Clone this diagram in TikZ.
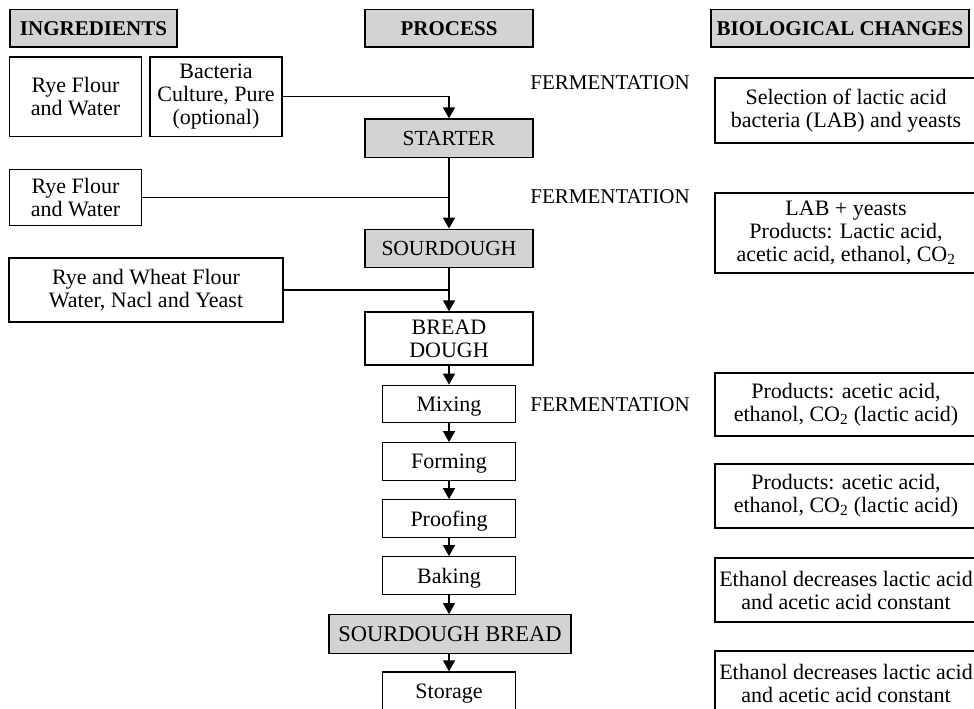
\documentclass[tikz,border=0pt]{standalone}
\usepackage{fontspec}
\setmainfont{Liberation Serif}
\usetikzlibrary{arrows.meta}
\definecolor{boxgray}{RGB}{211,211,211}
\tikzset{
  box/.style={draw, line width=1.3pt, align=center, inner sep=0pt,
    font=\fontsize{22}{23}\selectfont},
  head/.style={box, fill=boxgray, minimum height=37.5,
    font=\fontsize{21}{22}\selectfont\bfseries},
  stage/.style={box, fill=boxgray, minimum height=38.5,
    font=\fontsize{21.5}{23}\selectfont},
  step box/.style={box, minimum width=133, minimum height=37.5, text depth=0pt},
  change/.style={box, minimum width=262},
  ferm/.style={inner sep=0pt, font=\fontsize{21}{22}\selectfont},
  flow/.style={line width=1.3pt, -{Triangle[width=12pt,length=11pt]}},
  feed/.style={line width=1.3pt}
}
\begin{document}
\begin{tikzpicture}[x=1pt, y=-1pt]
  \useasboundingbox (0,0) rectangle (974,709);
  \clip (0,0) rectangle (974,709);
  % column heads
  \node[head, minimum width=167] (ingr) at (93.5,28.25) {INGREDIENTS};
  \node[head, minimum width=168] (proc) at (449,28.25) {PROCESS};
  \node[head, minimum width=258] (bio) at (840,28.25) {BIOLOGICAL CHANGES};
  % ingredients
  \node[box, minimum width=132, minimum height=79.5] (rye1) at (75.5,96.75) {Rye Flour\\and Water};
  \node[box, minimum width=132, minimum height=79.5] (bact) at (216,96.75) {Bacteria\\Culture, Pure\\(optional)};
  \node[box, minimum width=132, minimum height=56] (rye2) at (75.5,197.5) {Rye Flour\\and Water};
  \node[box, minimum width=274, minimum height=64] (wheat) at (146,290) {Rye and Wheat Flour\\Water, Nacl and Yeast};
  % process
  \node[stage, minimum width=168] (starter) at (449,138.25) {STARTER};
  \node[stage, minimum width=168] (sour) at (449,248.5) {SOURDOUGH};
  \node[box, minimum width=168, minimum height=53] (dough) at (449,338.5) {BREAD\\DOUGH};
  \node[step box] (mix) at (449,404) {Mixing};
  \node[step box] (form) at (449,461.5) {Forming};
  \node[step box] (proof) at (449,518.5) {Proofing};
  \node[step box] (bake) at (449,575.5) {Baking};
  \node[stage, minimum width=242, font=\fontsize{22.5}{23}\selectfont] (bread) at (450,634) {SOURDOUGH BREAD};
  \node[step box, minimum height=38] (store) at (449,691) {Storage};
  % fermentation stages
  \node[ferm] (ferm1) at (610,83) {FERMENTATION};
  \node[ferm] (ferm2) at (610,197) {FERMENTATION};
  \node[ferm] (ferm3) at (610,405) {FERMENTATION};
  % biological changes
  \node[change, minimum height=65] (sel) at (846,110.5) {Selection of lactic acid\\bacteria (LAB) and yeasts};
  \node[change, minimum height=80] (lab) at (846,233) {LAB + yeasts\\Products: Lactic acid,\\acetic acid, ethanol, CO\textsubscript{2}};
  \node[change, minimum height=63] (prod1) at (846,404.5) {Products: acetic acid,\\ethanol, CO\textsubscript{2} (lactic acid)};
  \node[change, minimum height=64] (prod2) at (846,496) {Products: acetic acid,\\ethanol, CO\textsubscript{2} (lactic acid)};
  \node[change, minimum height=64] (eth1) at (846,590) {Ethanol decreases lactic acid\\and acetic acid constant};
  \node[change, minimum height=64] (eth2) at (846,683) {Ethanol decreases lactic acid\\and acetic acid constant};
  \begin{scope}[flow]
    \draw (bact) -| (starter);
    \draw (starter) -- (sour);
    \draw (sour) -- (dough);
    \draw (dough) -- (mix);
    \draw (mix) -- (form);
    \draw (form) -- (proof);
    \draw (proof) -- (bake);
    \draw (bake) -- (bread.north -| bake);
    \draw (bread.south -| store) -- (store);
  \end{scope}
  \draw[feed] (rye2) -- (rye2 -| starter);
  \draw[feed] (wheat) -- (wheat -| sour);
\end{tikzpicture}
\end{document}
